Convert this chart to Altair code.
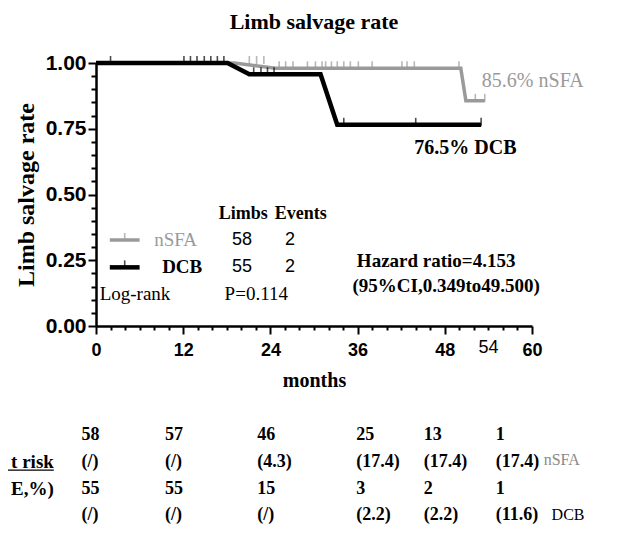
import altair as alt
import pandas as pd

# ---------------- data ----------------
# Kaplan-Meier curve vertices (months, survival)
nsfa_t = [0, 19.0, 24.7, 50.2, 50.9, 53.5]
nsfa_s = [1.0, 1.0, 0.980, 0.980, 0.856, 0.856]
dcb_t = [0, 18.1, 21.1, 30.9, 33.2, 53.0]
dcb_s = [1.0, 1.0, 0.957, 0.957, 0.765, 0.765]

# censor marks (months, survival at that time)
nsfa_cens_t = [21.1, 22.1, 23.1, 25.2, 26.1, 27.1, 29.1, 30.2, 31.1, 31.6, 32.4,
               33.2, 34.1, 35.0, 36.1, 38.0, 42.1, 42.8, 43.8, 49.95, 52.2, 53.5]
nsfa_cens_s = [1.0, 1.0, 1.0] + [0.980] * 17 + [0.856, 0.856]
dcb_cens_t = [2.0, 12.1, 13.0, 13.9, 14.9, 15.8, 16.7, 17.6,
              21.7, 22.7, 23.6, 24.5, 34.1, 44.0, 53.0]
dcb_cens_s = [1.0] * 8 + [0.957] * 4 + [0.765] * 3

# number at risk table
nsfa_risk = ["58", "57", "46", "25", "13", "1"]
nsfa_se = ["(/)", "(/)", "(4.3)", "(17.4)", "(17.4)", "(17.4)"]
dcb_risk = ["55", "55", "15", "3", "2", "1"]
dcb_se = ["(/)", "(/)", "(/)", "(2.2)", "(2.2)", "(11.6)"]

x_ticks = list(range(0, 61, 2))
y_ticks = [round(i * 0.05, 2) for i in range(21)]

# ---------------- layout constants ----------------
W, H = 436, 263
SERIF = "Liberation Serif"
SANS = "Liberation Sans"
GRAY = "#9a9a9a"
col_x = [-2.0, 9.5, 22.2, 35.8, 45.1, 55.0]      # table column anchors (months)
row_y = [-0.415, -0.517, -0.620, -0.719]         # table row anchors (rate units)

xs = alt.Scale(domain=[0, 60], nice=False, zero=False)
ys = alt.Scale(domain=[0, 1], nice=False)

XMAJ = "datum.value % 12 === 0"
YMAJ = "round(datum.value * 100) % 25 === 0"

x_axis = alt.Axis(
    values=x_ticks, title="months", grid=False,
    labelExpr=f"{XMAJ} ? datum.label : ''",
    tickSize={"condition": {"test": XMAJ, "value": 8}, "value": 4},
    labelFontSize={"condition": {"test": XMAJ, "value": 18}, "value": 1},
    tickWidth=2, tickColor="black", domainColor="black", domainWidth=2.5,
    labelFont=SANS, labelFontWeight="bold", labelColor="black",
    labelPadding=7, labelFlush=False, labelOverlap=False, labelBound=False,
    titleFont=SERIF, titleFontWeight="bold", titleFontSize=20, titleColor="black",
    titlePadding=11,
)
y_axis = alt.Axis(
    values=y_ticks, title="Limb salvage rate", grid=False,
    labelExpr=f"{YMAJ} ? format(datum.value, '.2f') : ''",
    tickSize={"condition": {"test": YMAJ, "value": 8}, "value": 5},
    labelFontSize={"condition": {"test": YMAJ, "value": 21}, "value": 1},
    tickWidth=2, tickColor="black", domainColor="black", domainWidth=2.5,
    labelFont=SANS, labelFontWeight="bold", labelColor="black",
    labelPadding=2, labelOverlap=False, labelBound=False,
    titleFont=SERIF, titleFontWeight="bold", titleFontSize=24, titleColor="black",
    titlePadding=7,
)

def X(field):
    return alt.X(field, scale=xs, axis=x_axis)

def Y(field):
    return alt.Y(field, scale=ys, axis=y_axis)

def curve(t, s, color, width):
    df = pd.DataFrame({"t": t, "s": s, "o": range(len(t))})
    return alt.Chart(df).mark_line(color=color, strokeWidth=width).encode(
        x=X("t:Q"), y=Y("s:Q"), order="o:O")

def cens(t, s, color):
    df = pd.DataFrame({"t": t, "s": s})
    return alt.Chart(df).mark_tick(color=color, orient="vertical", size=8,
                                   thickness=1.6, yOffset=-3).encode(
        x=X("t:Q"), y=Y("s:Q"))

def texts(rows, **kw):
    df = pd.DataFrame(rows, columns=["txt", "x", "y"])
    base = dict(baseline="middle", align="left", color="black", font=SERIF, fontSize=16)
    base.update(kw)
    return alt.Chart(df).mark_text(**base).encode(
        x=X("x:Q"), y=Y("y:Q"), text="txt:N")

# legend symbols (line with a centered censor tick)
leg = pd.DataFrame({"x": [1.9, 1.9], "x2": [6.0, 6.0], "y": [0.327, 0.223],
                    "c": [GRAY, "black"], "xm": [3.95, 3.95]})
leg_gray = alt.Chart(leg.iloc[[0]]).mark_rule(color=GRAY, strokeWidth=3.5).encode(
    x=X("x:Q"), x2="x2:Q", y=Y("y:Q"))
leg_black = alt.Chart(leg.iloc[[1]]).mark_rule(color="black", strokeWidth=4.5).encode(
    x=X("x:Q"), x2="x2:Q", y=Y("y:Q"))
leg_ticks = alt.Chart(leg).mark_tick(orient="vertical", size=8, thickness=1.6, yOffset=-3).encode(
    x=X("xm:Q"), y=Y("y:Q"), color=alt.Color("c:N", scale=None))

# underline of "t risk"
uline = alt.Chart(pd.DataFrame({"x": [-13.2], "x2": [-5.8], "y": [-0.548]})).mark_rule(
    color="black", strokeWidth=1.2).encode(x=X("x:Q"), x2="x2:Q", y=Y("y:Q"))

# table rows
table_rows = []
for vals, ry in zip([nsfa_risk, nsfa_se, dcb_risk, dcb_se], row_y):
    for v, cx in zip(vals, col_x):
        table_rows.append((v, cx, ry))

layers = [
    curve(nsfa_t, nsfa_s, GRAY, 3.5),
    curve(dcb_t, dcb_s, "black", 4.5),
    cens(nsfa_cens_t, nsfa_cens_s, GRAY),
    cens(dcb_cens_t, dcb_cens_s, "black"),
    leg_gray, leg_black, leg_ticks,
    # "54" extra axis label
    texts([("54", 54, -0.083)], font=SANS, fontSize=18, align="center"),
    # legend block
    texts([("Limbs", 16.9, 0.424), ("Events", 24.6, 0.424)], fontWeight="bold", fontSize=18),
    texts([("nSFA", 8.0, 0.327)], color=GRAY, fontSize=19),
    texts([("DCB", 9.1, 0.223)], fontWeight="bold", fontSize=19),
    texts([("58", 20.1, 0.327), ("2", 26.7, 0.327), ("55", 20.1, 0.223), ("2", 26.7, 0.223)],
          font=SANS, fontSize=18, align="center"),
    texts([("Log-rank", 0.5, 0.12), ("P=0.114", 17.7, 0.12)], fontSize=19),
    texts([("Hazard ratio=4.153", 35.9, 0.247), ("(95%CI,0.349to49.500)", 35.3, 0.152)],
          fontWeight="bold", fontSize=19),
    texts([("76.5% DCB", 43.8, 0.678)], fontWeight="bold", fontSize=20),
    texts([("85.6% nSFA", 53.1, 0.93)], color=GRAY, fontSize=20),
    # risk table
    texts(table_rows, fontWeight="bold", fontSize=18),
    texts([("t risk", -5.8, -0.517), ("E,%)", -5.8, -0.620)], fontWeight="bold",
          fontSize=19, align="right"),
    uline,
    texts([("nSFA", 61.6, -0.51)], color="#8a8a8a", fontSize=16),
    texts([("DCB", 62.7, -0.72)], fontSize=16),
]

chart = alt.layer(*layers).properties(
    width=W, height=H,
    title=alt.TitleParams("Limb salvage rate", font=SERIF, fontWeight="bold", fontSize=22,
                          anchor="middle", frame="group", offset=18, color="black"),
    autosize=alt.AutoSizeParams(type="none"),
    padding={"left": 88, "top": 55, "right": 89, "bottom": 202},
).configure_view(stroke=None).configure_axis(labelOverlap=False)

chart.save("out.html", embed_options={"renderer": "svg", "actions": False})
